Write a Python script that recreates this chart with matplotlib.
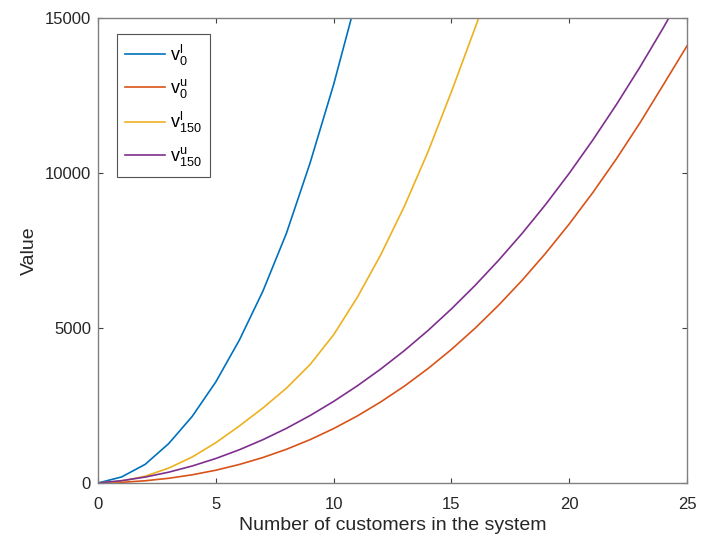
import numpy as np
import matplotlib
matplotlib.use("Agg")
import matplotlib.pyplot as plt

# values, one point per integer customer count
n_v0_l = list(range(0, 12))
v0_l = [0, 195, 600, 1270, 2150, 3260, 4610, 6190, 8060, 10320, 12850, 15700]

n_v0_u = list(range(0, 26))
v0_u = [0, 22, 72, 152, 265, 412, 598, 822, 1088, 1398, 1755, 2160, 2615,
        3123, 3687, 4308, 4989, 5732, 6538, 7411, 8354, 9366, 10452, 11613,
        12852, 14100]

n_v150_l = list(range(0, 18))
v150_l = [0, 60, 220, 480, 840, 1300, 1840, 2420, 3060, 3820, 4780, 5980,
          7360, 8920, 10670, 12620, 14670, 16770]

n_v150_u = list(range(0, 26))
v150_u = [0, 75, 191, 349, 549, 790, 1073, 1397, 1764, 2175, 2631, 3131,
          3676, 4269, 4914, 5615, 6370, 7181, 8050, 8985, 9989, 11061, 12203,
          13413, 14692, 16039]

labels = [r"$\mathregular{v^{l}_{0}}$", r"$\mathregular{v^{u}_{0}}$",
          r"$\mathregular{v^{l}_{150}}$", r"$\mathregular{v^{u}_{150}}$"]
colors = ["#0072BD", "#D95319", "#EDB120", "#7E2F8E"]

x_ticks = [0, 5, 10, 15, 20, 25]
y_ticks = [0, 5000, 10000, 15000]

plt.rcParams["font.family"] = ["Liberation Sans", "DejaVu Sans"]

fig = plt.figure(figsize=(7.22, 5.44), dpi=100, facecolor="white")
ax = fig.add_axes([98 / 722, 1 - 483 / 544, 589 / 722, 465 / 544])

series = [(n_v0_l, v0_l), (n_v0_u, v0_u), (n_v150_l, v150_l), (n_v150_u, v150_u)]
for (xs, ys), lab, col in zip(series, labels, colors):
    ax.plot(xs, ys, color=col, linewidth=1.2, label=lab)

ax.set_xlim(0, 25)
ax.set_ylim(0, 15000)
ax.set_xticks(x_ticks)
ax.set_yticks(y_ticks)

for sp in ax.spines.values():
    sp.set_color("#808080")
    sp.set_linewidth(1.0)

ax.tick_params(direction="in", length=3.5, width=0.8, color="#404040",
               labelsize=12, labelcolor="#262626", top=True, right=True)
ax.tick_params(axis="x", pad=10)
ax.tick_params(axis="y", pad=5)

ax.set_xlabel("Number of customers in the system", fontsize=14,
              color="#262626", labelpad=4)
ax.set_ylabel("Value", fontsize=14, color="#262626", labelpad=5)

leg = ax.legend(loc="upper left", bbox_to_anchor=(0.032, 0.965), fontsize=13,
                frameon=True, fancybox=False, handlelength=2.2,
                handletextpad=0.3, labelspacing=0.55, borderpad=0.45,
                borderaxespad=0)
leg.get_frame().set_edgecolor("#262626")
leg.get_frame().set_linewidth(0.8)

fig.savefig("out.png", dpi=100, facecolor="white")
